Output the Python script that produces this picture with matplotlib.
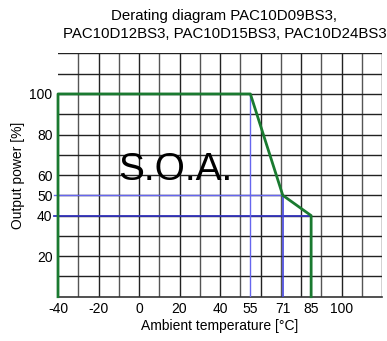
import matplotlib
matplotlib.use("Agg")
import matplotlib.pyplot as plt
import numpy as np

plt.rcParams['font.family'] = ['Liberation Sans', 'DejaVu Sans']
plt.rcParams['axes.unicode_minus'] = False

title = "Derating diagram PAC10D09BS3,\nPAC10D12BS3, PAC10D15BS3, PAC10D24BS3"
curve_x = [-40, -40, 55, 71, 85, 85]
curve_y = [0, 100, 100, 50, 40, 0]
xticks = [-40, -20, 0, 20, 40, 55, 71, 85, 100]
yticks = [20, 40, 50, 60, 80, 100]
xlim = (-40, 120)
ylim = (0, 120)

fig = plt.figure(figsize=(3.87, 3.41), dpi=100)
ax = fig.add_axes([0.1499, 0.1299, 0.8372, 0.7135])
ax.set_xlim(*xlim)
ax.set_ylim(*ylim)

for gx in np.arange(-30, 121, 10):
    ax.axvline(gx, color='#222222' if gx % 20 == 0 else '#555555', lw=1.0, zorder=1)
for gy in np.arange(10, 121, 10):
    ax.axhline(gy, color='#222222', lw=1.0, zorder=1)
for s in ax.spines.values():
    s.set_visible(False)
ax.plot([-40, 120], [0, 0], color='#333333', lw=1.2, zorder=1, clip_on=False)

# blue guide lines
ax.plot([-42, 71], [50, 50], color='#6666ee', lw=1.0, zorder=2, clip_on=False)
ax.plot([-42, 85], [40, 40], color='#3333bb', lw=1.3, zorder=2, clip_on=False)
ax.plot([55, 55], [0, 100], color='#6666ee', lw=1.0, zorder=2)
ax.plot([71, 71], [0, 50], color='#4444dd', lw=1.2, zorder=2)

ax.plot(curve_x, curve_y, color='#1a7a30', lw=2.0, zorder=3, clip_on=False)

ax.text(17.8, 57.7, "S.O.A.", fontsize=28, ha='center', va='baseline', color='black', zorder=4)

ax.set_xticks(xticks)
ax.set_yticks(yticks)
ax.tick_params(length=0, labelsize=10, pad=4)
ax.set_xlabel("Ambient temperature [°C]", fontsize=10, labelpad=2)
ax.set_ylabel("Output power [%]", fontsize=10, labelpad=3)
fig.text(0.58, 0.974, title, ha='center', va='top', fontsize=10.8, linespacing=1.35)

fig.savefig("out.png", dpi=100)
